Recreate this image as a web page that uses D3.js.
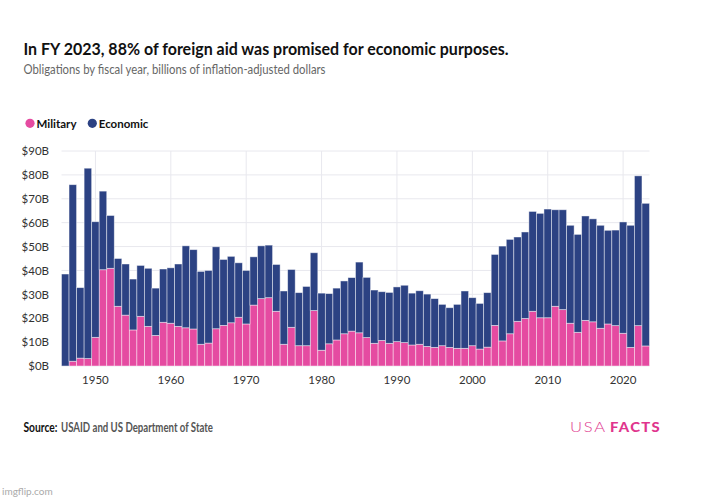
<!DOCTYPE html>
<html>
<head>
<meta charset="utf-8">
<script src="https://cdn.jsdelivr.net/npm/d3@7"></script>
<style>
  html, body { margin: 0; padding: 0; background: #fff; }
  svg { display: block; }
  text { font-family: Lato, "Noto Sans", sans-serif; }
</style>
</head>
<body>
<svg id="chart" width="702" height="500"></svg>
<script>
const years = [1946,1947,1948,1949,1950,1951,1952,1953,1954,1955,1956,1957,1958,1959,
  1960,1961,1962,1963,1964,1965,1966,1967,1968,1969,1970,1971,1972,1973,1974,1975,
  1976,1977,1978,1979,1980,1981,1982,1983,1984,1985,1986,1987,1988,1989,1990,1991,
  1992,1993,1994,1995,1996,1997,1998,1999,2000,2001,2002,2003,2004,2005,2006,2007,
  2008,2009,2010,2011,2012,2013,2014,2015,2016,2017,2018,2019,2020,2021,2022,2023];

const military = [0.0,2.0,3.3,3.1,12.0,40.3,40.9,25.0,21.3,15.1,20.8,16.6,12.8,18.3,
  17.9,16.6,16.0,15.5,9.1,9.6,15.6,17.0,18.1,20.4,17.6,25.5,28.2,28.6,22.9,9.1,
  16.2,8.5,8.5,23.2,6.6,9.3,10.9,13.5,14.6,13.9,11.9,9.5,10.7,9.5,10.2,9.8,
  8.8,9.1,8.2,7.8,8.5,7.8,7.4,7.4,8.5,7.1,7.9,17.0,10.5,13.5,18.7,19.9,
  22.9,20.2,20.2,25.0,23.6,17.9,14.1,19.1,18.5,15.8,17.6,16.9,13.7,7.8,16.9,8.4];

const economic = [38.5,73.9,29.5,79.7,48.4,32.9,22.1,20.0,21.4,21.3,21.3,24.3,19.8,22.3,
  23.2,26.1,34.3,33.2,30.5,30.4,34.3,27.6,27.8,22.8,22.4,20.2,22.1,22.0,19.6,22.3,
  24.2,22.2,24.8,24.2,23.9,21.0,21.7,22.1,22.4,29.6,25.2,22.3,20.4,21.3,22.9,24.0,
  21.7,22.4,21.9,20.4,17.3,16.6,18.4,24.0,20.1,19.1,22.8,29.7,39.7,39.5,35.3,36.2,
  41.8,43.7,45.5,40.4,41.8,41.0,41.0,43.7,43.1,43.1,39.2,40.0,46.6,51.1,62.7,59.7];

const yTicks = [0,10,20,30,40,50,60,70,80,90];
const xTicks = [1950,1960,1970,1980,1990,2000,2010,2020];
const seriesNames = ["Military","Economic"];
const colors = ["#e54ba1","#2c4283"];

const svg = d3.select("#chart");
svg.append("rect").attr("width",702).attr("height",500).attr("fill","#fff");

const plot = {left: 61.5, right: 649.5, top: 151, bottom: 366};

const x = d3.scaleBand().domain(years).range([plot.left, plot.right]).paddingInner(0).paddingOuter(0);
const y = d3.scaleLinear().domain([0,90]).range([plot.bottom, plot.top]);

// gridlines
const g = svg.append("g");
g.selectAll("line.h").data(yTicks).join("line")
  .attr("x1", plot.left).attr("x2", plot.right)
  .attr("y1", d => y(d)).attr("y2", d => y(d))
  .attr("stroke", "#e8e8ee").attr("stroke-width", 1);
g.selectAll("line.v").data(xTicks).join("line")
  .attr("x1", d => x(d) + x.bandwidth()/2).attr("x2", d => x(d) + x.bandwidth()/2)
  .attr("y1", plot.top).attr("y2", plot.bottom)
  .attr("stroke", "#e8e8ee").attr("stroke-width", 1);

// stacked data
const table = years.map((yr,i) => ({year: yr, Military: military[i], Economic: economic[i]}));
const stack = d3.stack().keys(seriesNames)(table);

svg.append("g").selectAll("g").data(stack).join("g")
  .attr("fill", (d,i) => colors[i])
  .selectAll("rect").data(d => d).join("rect")
  .attr("x", d => x(d.data.year))
  .attr("width", x.bandwidth())
  .attr("y", d => y(d[1]))
  .attr("height", d => Math.max(0, y(d[0]) - y(d[1])))
  .attr("stroke", "rgba(255,255,255,0.55)")
  .attr("stroke-width", 0.8);

// y axis
const yAxis = d3.axisLeft(y).tickValues(yTicks).tickFormat(d => "$" + d + "B").tickSize(0).tickPadding(0);
const ya = svg.append("g").attr("transform", "translate(49,0)").call(yAxis);
ya.select(".domain").remove();
ya.selectAll("text").attr("font-family","Lato, sans-serif").attr("font-size", 11.5).attr("fill","#333");

// x axis
const xAxis = d3.axisBottom(x).tickValues(xTicks).tickSize(0).tickPadding(0);
const xa = svg.append("g").attr("transform", "translate(0,376)").call(xAxis);
xa.select(".domain").remove();
xa.selectAll("text").attr("font-family","Lato, sans-serif").attr("font-size", 11.5).attr("fill","#333");

// helper to fit text width
function fit(sel, w) {
  const n = sel.node();
  const cur = n.getComputedTextLength();
  if (Math.abs(cur - w) > 1) sel.attr("textLength", w).attr("lengthAdjust", "spacingAndGlyphs");
}

// title
const title = svg.append("text").attr("x", 23.5).attr("y", 55)
  .attr("font-size", 17.5).attr("font-weight", 700).attr("fill", "#111")
  .text("In FY 2023, 88% of foreign aid was promised for economic purposes.");
fit(title, 485);

const sub = svg.append("text").attr("x", 23.5).attr("y", 74)
  .attr("font-size", 13.5).attr("fill", "#666")
  .text("Obligations by fiscal year, billions of inflation-adjusted dollars");
fit(sub, 302);

// legend
const legX = [30, 92.3];
const leg = svg.append("g").selectAll("g").data(seriesNames).join("g");
leg.append("circle").attr("cx", (d,i) => legX[i]).attr("cy", 123.3).attr("r", 4.6).attr("fill", (d,i) => colors[i]);
leg.append("text").attr("x", (d,i) => legX[i] + 6.5).attr("y", 127.5)
  .attr("font-size", 11.5).attr("font-weight", 700).attr("fill", "#111")
  .text(d => d);

// source
const src1 = svg.append("text").attr("x", 23.5).attr("y", 432).attr("font-size", 12.5)
  .attr("font-weight", 700).attr("fill", "#111").text("Source:");
fit(src1, 34);
const src2 = svg.append("text").attr("x", 61).attr("y", 432).attr("font-size", 12.5)
  .attr("font-weight", 700).attr("fill", "#555").text("USAID and US Department of State");
fit(src2, 152);

// logo
const logo1 = svg.append("text").attr("x", 570).attr("y", 432).attr("font-size", 13.5)
  .attr("font-weight", 300).attr("fill", "#e0358d").attr("letter-spacing", 1.5).text("USA");
fit(logo1, 37);
const logo2 = svg.append("text").attr("x", 610).attr("y", 432).attr("font-size", 13.5)
  .attr("font-weight", 900).attr("fill", "#e0358d").attr("letter-spacing", 1.2).text("FACTS");
fit(logo2, 51);

// watermark
svg.append("text").attr("x", 2).attr("y", 495).attr("font-family", "Liberation Sans, Arial, sans-serif")
  .attr("font-size", 10).attr("fill", "#aaa").text("imgflip.com");
</script>
</body>
</html>
